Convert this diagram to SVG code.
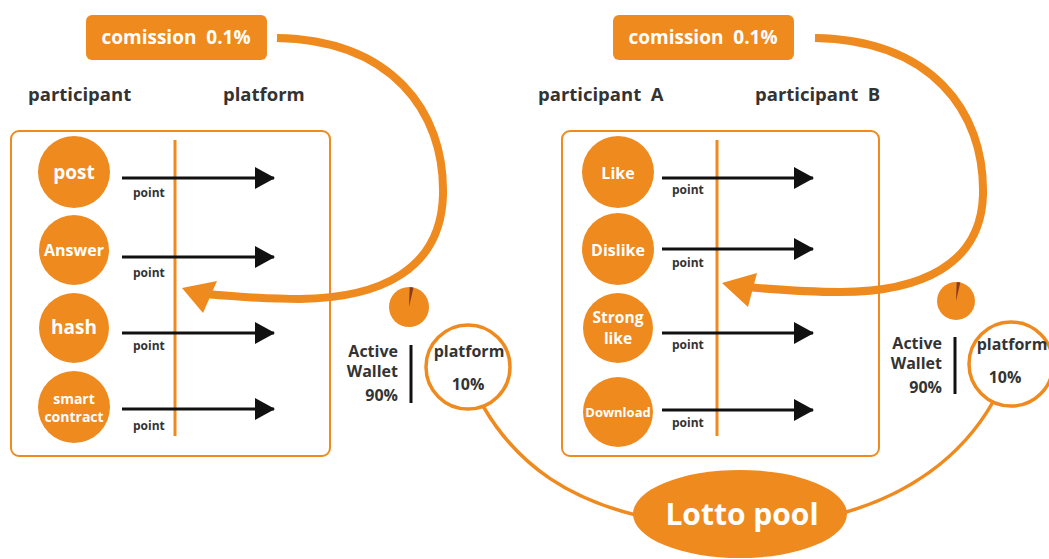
<svg xmlns="http://www.w3.org/2000/svg" width="1049" height="559" viewBox="0 0 1049 559">
<style>
.t{font-family:"Open Sans","Liberation Sans",sans-serif;font-weight:bold}
.w{fill:#fff}
.d{fill:#333}
.bx{fill:#fff;stroke:#EF8A1F;stroke-width:2}
.c{fill:#EF8A1F}
.vl{stroke:#EF8A1F;stroke-width:3}
.ar{stroke:#111;stroke-width:3;fill:none}
.big{stroke:#EF8A1F;stroke-width:8;fill:none}
.thin{stroke:#EF8A1F;stroke-width:3.5;fill:none}
</style>
<defs>
<marker id="ah" markerWidth="20" markerHeight="24" refX="19" refY="11" orient="auto" markerUnits="userSpaceOnUse">
<path d="M0,0 L20,11 L0,22 Z" fill="#111"/>
</marker>
</defs>
<rect width="1049" height="559" fill="#fff"/>

<g id="commission-left"><rect x="86" y="15" width="181" height="45" rx="6" class="c"/><text x="176" y="44" text-anchor="middle" class="t w" font-size="19">comission&#160; 0.1%</text></g>
<g id="commission-right"><rect x="613" y="15" width="181" height="45" rx="6" class="c"/><text x="703" y="44" text-anchor="middle" class="t w" font-size="19">comission&#160; 0.1%</text></g>

<g id="headers">
<text x="28" y="101" class="t d" font-size="18.5">participant</text>
<text x="223" y="101" class="t d" font-size="18.5">platform</text>
<text x="538" y="101" class="t d" font-size="18.5">participant&#160; A</text>
<text x="755" y="101" class="t d" font-size="18.5">participant&#160; B</text>
</g>

<g id="left-panel">
<rect x="11" y="131" width="319" height="325" rx="8" class="bx"/>
<line x1="175" y1="140" x2="175" y2="436" class="vl"/>
</g>
<g id="right-panel">
<rect x="562" y="131" width="317" height="325" rx="8" class="bx"/>
<line x1="717" y1="140" x2="717" y2="436" class="vl"/>
</g>

<g id="node-post"><circle cx="74" cy="172" r="36" class="c"/><text x="74" y="179" text-anchor="middle" class="t w" font-size="19">post</text></g>
<g id="node-answer"><circle cx="74" cy="250" r="35" class="c"/><text x="74" y="256" text-anchor="middle" class="t w" font-size="16">Answer</text></g>
<g id="node-hash"><circle cx="74" cy="328" r="35" class="c"/><text x="74" y="334" text-anchor="middle" class="t w" font-size="19">hash</text></g>
<g id="node-smart"><circle cx="74" cy="407" r="36" class="c"/><text x="74" y="404" text-anchor="middle" class="t w" font-size="14">smart</text><text x="74" y="422" text-anchor="middle" class="t w" font-size="14">contract</text></g>

<g id="node-like"><circle cx="618" cy="172" r="36" class="c"/><text x="618" y="179" text-anchor="middle" class="t w" font-size="16">Like</text></g>
<g id="node-dislike"><circle cx="618" cy="249" r="36" class="c"/><text x="618" y="256" text-anchor="middle" class="t w" font-size="16">Dislike</text></g>
<g id="node-stronglike"><circle cx="618" cy="328" r="35" class="c"/><text x="618" y="323" text-anchor="middle" class="t w" font-size="15.5">Strong</text><text x="618" y="344" text-anchor="middle" class="t w" font-size="15.5">like</text></g>
<g id="node-download"><circle cx="618" cy="412" r="35" class="c"/><text x="618" y="417" text-anchor="middle" class="t w" font-size="13">Download</text></g>

<g id="point-labels" class="t d" font-size="12">
<text x="133" y="197">point</text>
<text x="133" y="277">point</text>
<text x="133" y="350">point</text>
<text x="133" y="430">point</text>
<text x="672" y="194">point</text>
<text x="672" y="267">point</text>
<text x="672" y="349">point</text>
<text x="672" y="427">point</text>
</g>

<g id="pie-left"><circle cx="409" cy="307" r="20" class="c"/><path d="M409,307 L409.7,287 L413.5,287.5 Z" fill="#8B3A1A"/></g>
<g id="pie-right"><circle cx="956" cy="301" r="19" class="c"/><path d="M956,301 L956.7,282 L960.3,282.5 Z" fill="#8B3A1A"/></g>

<g id="wallet-left">
<text x="398" y="357" text-anchor="end" class="t d" font-size="16">Active</text>
<text x="398" y="377" text-anchor="end" class="t d" font-size="16">Wallet</text>
<text x="398" y="401" text-anchor="end" class="t d" font-size="16">90%</text>
<line x1="411" y1="345" x2="411" y2="403" stroke="#111" stroke-width="3"/>
</g>
<g id="wallet-right">
<text x="942" y="349" text-anchor="end" class="t d" font-size="16">Active</text>
<text x="942" y="369" text-anchor="end" class="t d" font-size="16">Wallet</text>
<text x="942" y="393" text-anchor="end" class="t d" font-size="16">90%</text>
<line x1="955" y1="337" x2="955" y2="394" stroke="#111" stroke-width="3"/>
</g>

<g id="platform-left"><circle cx="468" cy="367" r="42" fill="#fff" stroke="#EF8A1F" stroke-width="3.5"/><text x="469" y="357" text-anchor="middle" class="t d" font-size="16">platform</text><text x="468" y="390" text-anchor="middle" class="t d" font-size="16">10%</text></g>
<g id="platform-right"><circle cx="1011" cy="364" r="42" fill="#fff" stroke="#EF8A1F" stroke-width="3.5"/><text x="1012" y="350" text-anchor="middle" class="t d" font-size="16">platform</text><text x="1005" y="383" text-anchor="middle" class="t d" font-size="16">10%</text></g>

<g id="connectors">
<line x1="122" y1="178" x2="274" y2="178" class="ar" marker-end="url(#ah)"/>
<line x1="122" y1="257" x2="274" y2="257" class="ar" marker-end="url(#ah)"/>
<line x1="122" y1="333" x2="274" y2="333" class="ar" marker-end="url(#ah)"/>
<line x1="122" y1="409" x2="274" y2="409" class="ar" marker-end="url(#ah)"/>
<line x1="662" y1="178" x2="813" y2="178" class="ar" marker-end="url(#ah)"/>
<line x1="662" y1="249" x2="813" y2="249" class="ar" marker-end="url(#ah)"/>
<line x1="662" y1="333" x2="813" y2="333" class="ar" marker-end="url(#ah)"/>
<line x1="662" y1="410" x2="813" y2="410" class="ar" marker-end="url(#ah)"/>
<path d="M277,38 C390,40 445,110 443,195 C441,270 380,298 300,299 C265,299 240,297 205,294" class="big"/>
<polygon points="182,288 217,281 203,313" fill="#EF8A1F"/>
<path d="M815,38 C930,40 985,110 983,195 C981,265 920,292 840,292 C805,292 780,290 745,287" class="big"/>
<polygon points="722,283 757,273 748,307" fill="#EF8A1F"/>
<path d="M483,406 C520,470 575,500 636,515" class="thin"/>
<path d="M993,402 C960,460 905,495 846,512" class="thin"/>
</g>

<g id="lotto-pool"><ellipse cx="740" cy="514" rx="107" ry="44" class="c"/><text x="742" y="525" text-anchor="middle" class="t w" font-size="30">Lotto pool</text></g>
</svg>
